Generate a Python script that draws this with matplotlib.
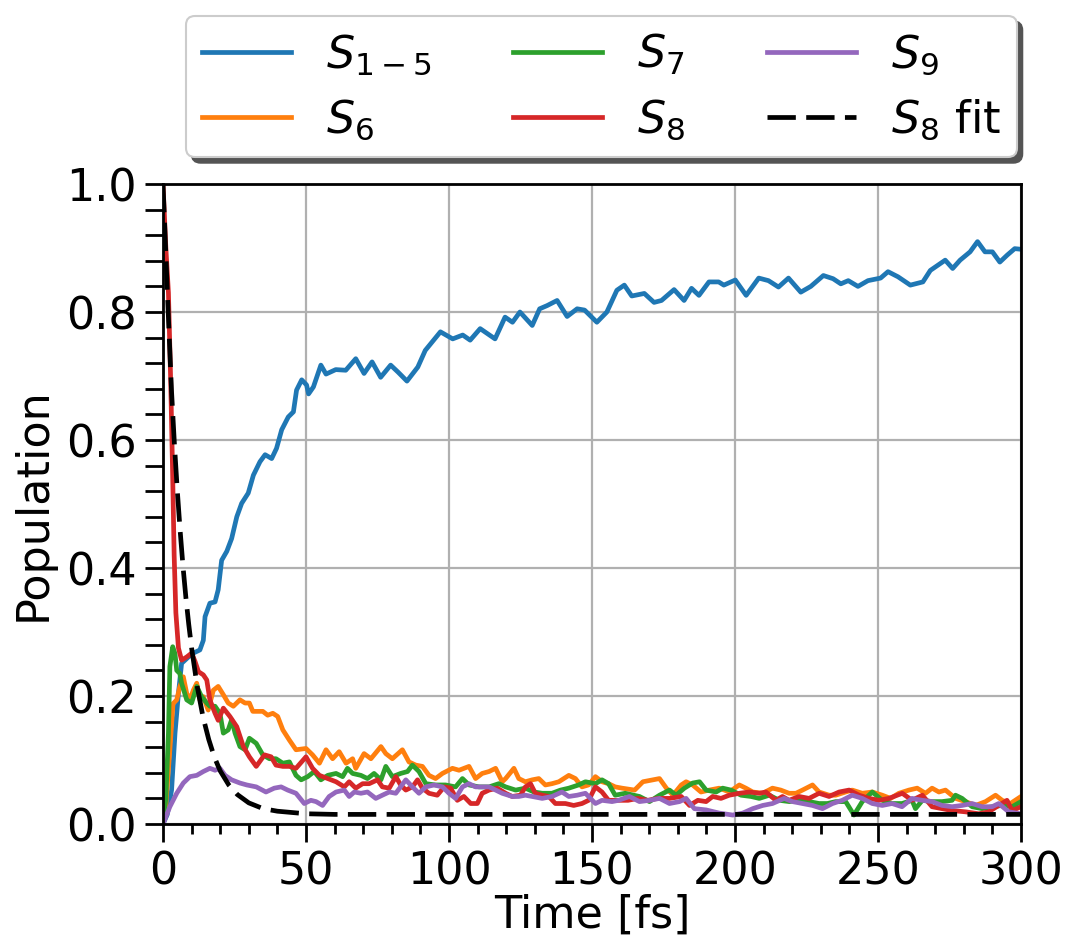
import matplotlib
matplotlib.use("Agg")
import matplotlib.pyplot as plt
from matplotlib.ticker import MultipleLocator

# --- datos: tiempo [fs] y poblacion de cada estado ---
t_s15 = [0, 1.5, 3.0, 4.2, 5.4, 6.5, 8.9, 10.6, 12.9, 14.1,
         14.7, 16.4, 18.2, 19.3, 20.5, 22.3, 24.0, 25.8, 27.5, 29.8,
         31.6, 33.9, 35.7, 38.0, 39.7, 41.5, 43.8, 45.6, 46.7, 48.5,
         50.2, 50.9, 52.6, 55.2, 57.0, 60.4, 63.9, 67.4, 70.3, 73.1,
         76.1, 79.6, 82.2, 85.3, 89.1, 91.7, 97.0, 101.3, 104.8, 107.4,
         110.9, 116.1, 119.6, 122.2, 124.8, 129.1, 131.7, 134.3, 137.8, 141.3,
         144.8, 147.4, 151.7, 155.2, 158.7, 161.3, 163.9, 168.3, 171.7, 174.3,
         178.7, 182.2, 184.8, 187.4, 190.9, 194.3, 196.1, 200.1, 203.9, 208.3,
         211.7, 215.2, 218.7, 223.0, 226.5, 230.9, 234.3, 237.0, 239.6, 243.0,
         246.5, 250.9, 253.5, 257.0, 261.3, 265.7, 268.3, 270.9, 273.5, 276.1,
         278.7, 282.2, 284.8, 287.4, 290.0, 292.6, 295.2, 297.8, 300.0]
p_s15 = [0.0, 0.015, 0.053, 0.142, 0.204, 0.251, 0.261, 0.267, 0.272, 0.287,
         0.324, 0.345, 0.347, 0.366, 0.412, 0.426, 0.446, 0.480, 0.501, 0.517,
         0.545, 0.566, 0.577, 0.571, 0.587, 0.616, 0.636, 0.644, 0.678, 0.694,
         0.686, 0.672, 0.683, 0.717, 0.703, 0.710, 0.709, 0.727, 0.704, 0.722,
         0.698, 0.717, 0.706, 0.692, 0.714, 0.740, 0.769, 0.758, 0.764, 0.756,
         0.774, 0.758, 0.792, 0.784, 0.800, 0.779, 0.805, 0.810, 0.818, 0.793,
         0.805, 0.803, 0.784, 0.800, 0.834, 0.842, 0.825, 0.829, 0.815, 0.818,
         0.835, 0.818, 0.837, 0.826, 0.847, 0.847, 0.842, 0.850, 0.826, 0.853,
         0.849, 0.839, 0.853, 0.831, 0.840, 0.857, 0.852, 0.844, 0.849, 0.840,
         0.849, 0.853, 0.863, 0.855, 0.842, 0.847, 0.865, 0.873, 0.881, 0.868,
         0.881, 0.894, 0.910, 0.894, 0.894, 0.878, 0.889, 0.899, 0.898]

t_s6 = [0, 1.0, 2.4, 3.5, 4.8, 5.9, 7.1, 8.3, 9.4, 10.6,
        11.8, 12.9, 14.1, 15.8, 17.6, 19.3, 21.1, 22.8, 24.6, 26.9,
        28.7, 30.2, 31.4, 34.9, 36.6, 38.4, 40.1, 41.9, 44.2, 46.5,
        50.0, 52.3, 54.7, 57.0, 59.3, 61.6, 64.0, 66.3, 67.4, 70.3,
        72.7, 76.2, 77.9, 80.2, 83.7, 86.0, 88.4, 90.7, 93.0, 95.3,
        97.7, 101.2, 103.5, 107.0, 109.3, 111.6, 114.0, 116.3, 118.6, 119.8,
        122.7, 124.4, 126.7, 129.1, 131.4, 133.7, 136.0, 138.4, 141.9, 144.2,
        146.5, 148.8, 151.2, 153.5, 155.8, 158.1, 160.5, 164.9, 167.8, 171.3,
        173.6, 176.0, 178.3, 181.2, 182.9, 185.2, 188.1, 191.0, 194.5, 198.0,
        201.5, 203.8, 206.2, 209.7, 213.1, 216.0, 218.9, 221.3, 223.6, 227.1,
        229.4, 232.9, 235.2, 238.7, 241.0, 244.5, 248.0, 251.5, 254.4, 257.3,
        260.8, 263.7, 266.6, 268.9, 271.3, 273.6, 277.1, 280.6, 284.1, 287.6,
        291.1, 293.4, 296.3, 300.0]
p_s6 = [0.0, 0.03, 0.116, 0.188, 0.194, 0.215, 0.230, 0.204, 0.194, 0.209,
        0.220, 0.194, 0.199, 0.178, 0.209, 0.215, 0.202, 0.189, 0.184, 0.194,
        0.189, 0.189, 0.176, 0.176, 0.170, 0.173, 0.168, 0.147, 0.131, 0.116,
        0.118, 0.108, 0.095, 0.116, 0.102, 0.113, 0.095, 0.102, 0.087, 0.110,
        0.102, 0.121, 0.110, 0.102, 0.116, 0.097, 0.092, 0.090, 0.076, 0.071,
        0.079, 0.087, 0.084, 0.090, 0.071, 0.079, 0.082, 0.087, 0.066, 0.071,
        0.087, 0.071, 0.066, 0.069, 0.071, 0.061, 0.063, 0.066, 0.076, 0.071,
        0.058, 0.061, 0.074, 0.066, 0.063, 0.058, 0.056, 0.053, 0.066, 0.069,
        0.071, 0.056, 0.045, 0.061, 0.066, 0.061, 0.050, 0.053, 0.056, 0.050,
        0.061, 0.056, 0.050, 0.048, 0.056, 0.053, 0.048, 0.048, 0.053, 0.061,
        0.050, 0.045, 0.045, 0.050, 0.053, 0.048, 0.050, 0.045, 0.040, 0.048,
        0.053, 0.056, 0.048, 0.056, 0.050, 0.053, 0.040, 0.035, 0.029, 0.035,
        0.045, 0.037, 0.032, 0.043]

t_s7 = [0, 1.0, 1.9, 2.4, 3.4, 4.2, 4.8, 5.9, 6.5, 8.3,
        10.0, 11.8, 13.5, 15.3, 16.4, 18.2, 19.9, 21.1, 22.8, 24.0,
        25.2, 26.9, 28.7, 30.2, 32.6, 34.9, 37.2, 39.5, 41.9, 44.2,
        46.5, 48.3, 50.6, 52.9, 55.2, 57.6, 60.5, 62.8, 64.5, 66.3,
        69.2, 71.5, 73.8, 76.2, 77.9, 80.2, 83.1, 85.5, 87.2, 89.5,
        91.9, 95.3, 98.8, 102.3, 104.7, 107.0, 110.5, 114.0, 117.4, 119.8,
        123.3, 126.7, 129.7, 132.6, 136.0, 139.0, 141.9, 145.3, 147.7, 151.2,
        153.5, 155.8, 158.1, 161.6, 166.6, 170.1, 173.6, 177.1, 179.4, 182.3,
        185.2, 187.6, 189.9, 193.4, 195.7, 198.6, 202.1, 205.6, 208.5, 212.0,
        215.5, 219.0, 222.4, 225.9, 229.4, 232.3, 235.2, 238.7, 241.6, 244.5,
        248.0, 251.5, 254.9, 258.4, 261.9, 263.1, 265.5, 268.9, 272.4, 275.9,
        277.1, 279.4, 282.9, 286.4, 289.9, 293.4, 296.9, 300.0]
p_s7 = [0.0, 0.04, 0.142, 0.246, 0.277, 0.266, 0.240, 0.235, 0.220, 0.194,
        0.189, 0.215, 0.199, 0.189, 0.184, 0.184, 0.173, 0.142, 0.147, 0.163,
        0.142, 0.121, 0.116, 0.134, 0.126, 0.108, 0.102, 0.102, 0.095, 0.097,
        0.076, 0.069, 0.074, 0.082, 0.069, 0.076, 0.079, 0.074, 0.087, 0.079,
        0.076, 0.071, 0.079, 0.069, 0.090, 0.074, 0.079, 0.082, 0.092, 0.082,
        0.063, 0.061, 0.061, 0.058, 0.071, 0.061, 0.058, 0.058, 0.063, 0.058,
        0.053, 0.056, 0.050, 0.048, 0.048, 0.053, 0.056, 0.061, 0.066, 0.063,
        0.069, 0.063, 0.045, 0.048, 0.043, 0.035, 0.045, 0.053, 0.045, 0.056,
        0.064, 0.066, 0.053, 0.050, 0.056, 0.053, 0.045, 0.043, 0.040, 0.045,
        0.037, 0.035, 0.037, 0.035, 0.032, 0.032, 0.035, 0.035, 0.014, 0.035,
        0.050, 0.037, 0.032, 0.032, 0.037, 0.024, 0.037, 0.035, 0.035, 0.037,
        0.045, 0.040, 0.027, 0.024, 0.027, 0.029, 0.027, 0.035]

t_s8 = [0, 1.0, 1.9, 2.7, 3.4, 3.9, 4.5, 5.4, 6.5, 8.3,
        10.0, 11.2, 12.4, 14.1, 15.3, 16.4, 18.2, 19.3, 21.1, 23.4,
        25.8, 28.1, 30.2, 32.6, 35.5, 37.8, 39.5, 41.9, 44.2, 46.5,
        50.0, 52.3, 54.7, 57.6, 60.5, 63.4, 65.1, 67.4, 69.8, 72.1,
        75.0, 76.7, 79.1, 81.4, 83.1, 84.9, 87.2, 89.0, 90.7, 93.0,
        95.9, 98.3, 100.6, 102.9, 105.2, 107.6, 109.9, 111.6, 114.0, 116.9,
        119.8, 122.1, 125.0, 126.7, 128.5, 130.2, 132.6, 134.9, 137.2, 140.7,
        143.6, 146.5, 148.8, 151.2, 153.5, 155.8, 158.1, 162.6, 166.0, 169.5,
        173.0, 177.1, 181.2, 184.1, 187.0, 189.9, 192.2, 195.1, 198.0, 201.5,
        205.0, 208.5, 210.8, 214.3, 216.6, 218.9, 222.4, 225.9, 229.4, 232.9,
        236.4, 239.9, 243.4, 246.9, 250.3, 253.8, 258.5, 261.9, 265.5, 268.9,
        272.4, 275.9, 280.6, 285.2, 288.7, 292.2, 295.1, 296.9, 300.0]
p_s8 = [1.0, 0.90, 0.83, 0.69, 0.54, 0.42, 0.33, 0.275, 0.256, 0.261,
        0.267, 0.254, 0.238, 0.233, 0.225, 0.194, 0.173, 0.162, 0.181, 0.168,
        0.152, 0.121, 0.105, 0.090, 0.108, 0.105, 0.092, 0.090, 0.090, 0.087,
        0.105, 0.087, 0.076, 0.071, 0.066, 0.058, 0.066, 0.056, 0.063, 0.063,
        0.069, 0.058, 0.056, 0.074, 0.061, 0.053, 0.058, 0.069, 0.056, 0.048,
        0.045, 0.058, 0.056, 0.037, 0.043, 0.032, 0.032, 0.048, 0.053, 0.056,
        0.048, 0.043, 0.045, 0.058, 0.063, 0.048, 0.045, 0.043, 0.032, 0.032,
        0.029, 0.032, 0.037, 0.058, 0.050, 0.037, 0.037, 0.037, 0.040, 0.037,
        0.040, 0.040, 0.043, 0.029, 0.037, 0.035, 0.043, 0.040, 0.045, 0.048,
        0.050, 0.048, 0.050, 0.037, 0.043, 0.037, 0.043, 0.040, 0.048, 0.043,
        0.050, 0.053, 0.045, 0.040, 0.037, 0.040, 0.048, 0.037, 0.045, 0.027,
        0.024, 0.021, 0.019, 0.016, 0.019, 0.029, 0.037, 0.021, 0.027]

t_s9 = [0, 2.4, 4.8, 7.1, 9.4, 11.8, 14.1, 16.4, 18.2, 19.9,
        21.7, 24.0, 26.9, 29.3, 32.6, 36.0, 38.9, 41.3, 43.6, 46.5,
        49.4, 51.7, 53.5, 55.8, 58.1, 60.5, 63.4, 65.1, 66.9, 69.2,
        71.5, 74.4, 76.7, 79.1, 81.4, 84.9, 87.2, 89.5, 91.9, 94.8,
        97.7, 100.0, 102.3, 104.7, 107.0, 109.3, 111.6, 114.0, 116.3, 118.6,
        122.1, 124.4, 126.7, 129.1, 132.6, 136.0, 139.5, 141.9, 144.8, 147.7,
        151.2, 153.5, 157.0, 159.3, 163.1, 166.6, 170.1, 173.6, 177.1, 180.6,
        182.9, 185.8, 189.9, 194.5, 199.2, 202.7, 206.2, 209.7, 213.1, 217.2,
        220.1, 223.6, 227.1, 230.6, 234.1, 237.5, 241.0, 244.5, 248.0, 251.5,
        254.9, 258.4, 261.9, 265.5, 268.9, 272.4, 275.9, 279.4, 282.9, 286.4,
        289.9, 292.2, 295.7, 300.0]
p_s9 = [0.0, 0.027, 0.048, 0.064, 0.074, 0.076, 0.082, 0.087, 0.084, 0.087,
        0.076, 0.069, 0.064, 0.061, 0.058, 0.050, 0.056, 0.058, 0.053, 0.048,
        0.032, 0.037, 0.035, 0.029, 0.043, 0.050, 0.053, 0.043, 0.050, 0.048,
        0.050, 0.040, 0.045, 0.050, 0.048, 0.069, 0.058, 0.048, 0.058, 0.061,
        0.058, 0.048, 0.040, 0.058, 0.063, 0.058, 0.058, 0.058, 0.053, 0.048,
        0.043, 0.043, 0.045, 0.043, 0.040, 0.043, 0.050, 0.043, 0.045, 0.048,
        0.032, 0.037, 0.035, 0.037, 0.043, 0.035, 0.037, 0.040, 0.032, 0.035,
        0.040, 0.024, 0.022, 0.017, 0.014, 0.017, 0.024, 0.029, 0.032, 0.040,
        0.035, 0.032, 0.029, 0.024, 0.032, 0.037, 0.045, 0.040, 0.032, 0.029,
        0.032, 0.027, 0.040, 0.037, 0.035, 0.029, 0.027, 0.029, 0.032, 0.027,
        0.027, 0.032, 0.019, 0.016]

# curva del ajuste de S8
t_fit = [0, 1, 2, 3, 4, 5, 6, 7, 8, 9, 10, 12, 14, 16, 18, 20, 23, 26, 30, 35, 40, 50, 60, 300]
p_fit = [1.0, 0.89, 0.78, 0.675, 0.593, 0.521, 0.458, 0.402, 0.354, 0.312, 0.275, 0.214,
         0.167, 0.132, 0.104, 0.083, 0.061, 0.046, 0.033, 0.024, 0.020, 0.016, 0.015, 0.015]

series = [
    (t_s15, p_s15, '#1f77b4', r'$S_{1-5}$'),
    (t_s6, p_s6, '#ff7f0e', r'$S_6$'),
    (t_s7, p_s7, '#2ca02c', r'$S_7$'),
    (t_s8, p_s8, '#d62728', r'$S_8$'),
    (t_s9, p_s9, '#9467bd', r'$S_9$'),
]

FS = 32

fig = plt.figure(figsize=(10.66, 9.44), dpi=100)
ax = fig.add_axes([163 / 1066, 1 - 824 / 944, 858 / 1066, 640 / 944])

for t, p, c, lab in series:
    ax.plot(t, p, color=c, lw=3.4, label=lab)
ax.plot(t_fit, p_fit, color='k', lw=3.4, dashes=(6, 2.2), label=r'$S_8$ fit')

ax.set_xlim(0, 300)
ax.set_ylim(0, 1)
ax.set_xticks([0, 50, 100, 150, 200, 250, 300])
ax.set_yticks([0.0, 0.2, 0.4, 0.6, 0.8, 1.0])
ax.set_yticklabels(['0.0', '0.2', '0.4', '0.6', '0.8', '1.0'])
ax.xaxis.set_minor_locator(MultipleLocator(10))
ax.yaxis.set_minor_locator(MultipleLocator(0.04))
ax.tick_params(which='major', length=13, width=2, labelsize=FS, pad=6)
ax.tick_params(axis='x', which='minor', length=7, width=2)
ax.tick_params(axis='y', which='minor', length=13, width=2)
ax.grid(True, which='major', color='#b0b0b0', lw=1.6)
for s in ax.spines.values():
    s.set_linewidth(2)
    s.set_color('k')

ax.set_xlabel('Time [fs]', fontsize=FS, labelpad=0)
ax.set_ylabel('Population', fontsize=FS, labelpad=8)

leg = ax.legend(ncol=3, loc='lower center', bbox_to_anchor=(0.511, 1.042),
                borderaxespad=0, fontsize=FS, handlelength=2.0, handletextpad=0.8,
                columnspacing=1.83, labelspacing=0.46, fancybox=True, framealpha=1,
                edgecolor='0.8', borderpad=0.35,
                shadow={'ox': 4, 'oy': -4, 'facecolor': '0.33', 'edgecolor': '0.33', 'alpha': 1})
leg.get_frame().set_linewidth(1.5)

fig.savefig('out.png', dpi=100)
